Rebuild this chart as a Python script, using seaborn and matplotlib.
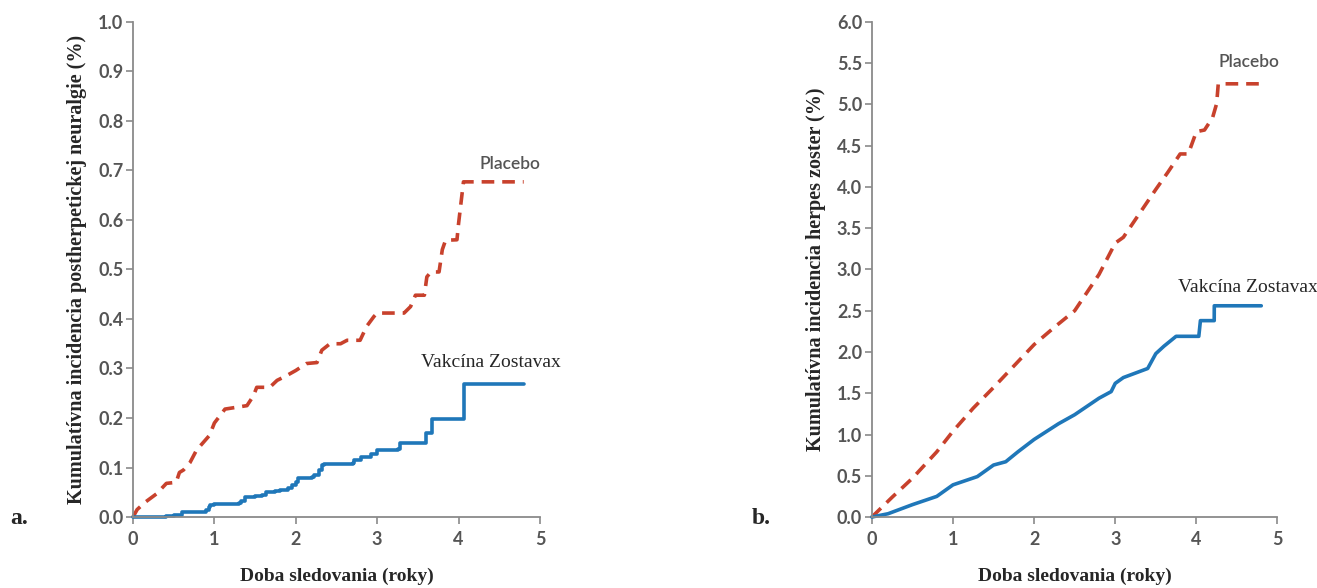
import numpy as np
import pandas as pd
import matplotlib
matplotlib.use("Agg")
import matplotlib.pyplot as plt
import seaborn as sns

# panel a: postherpetic neuralgia
a_placebo_x = [0.0, 0.05, 0.15, 0.29, 0.41, 0.53, 0.57, 0.62, 0.70, 0.78, 0.86, 0.94, 1.0, 1.07,
               1.13, 1.40, 1.48, 1.52, 1.68, 1.77, 1.88, 2.0, 2.13, 2.26, 2.32, 2.42,
               2.55, 2.63, 2.79, 2.87, 2.96, 3.0, 3.33, 3.41, 3.47, 3.58, 3.61, 3.66, 3.76,
               3.80, 3.84, 3.98, 4.0, 4.06, 4.8]
a_placebo_y = [0.0, 0.015, 0.03, 0.047, 0.068, 0.07, 0.09, 0.095, 0.11, 0.135, 0.15, 0.165, 0.19,
               0.205, 0.218, 0.225, 0.245, 0.262, 0.262, 0.276, 0.285, 0.296, 0.31,
               0.312, 0.337, 0.35, 0.35, 0.357, 0.357, 0.385, 0.405, 0.412, 0.412, 0.425,
               0.448, 0.448, 0.485, 0.495, 0.495, 0.54, 0.559, 0.56, 0.593, 0.677, 0.677]

a_vacc_x = [0.0, 0.4, 0.5, 0.6, 0.9, 0.93, 0.95, 1.0, 1.3, 1.33, 1.38, 1.5, 1.58, 1.63, 1.75,
            1.8, 1.9, 1.95, 2.0, 2.03, 2.2, 2.22, 2.28, 2.32, 2.35, 2.7, 2.72, 2.8, 2.92, 3.0,
            3.25, 3.28, 3.6, 3.67, 4.07, 4.8]
a_vacc_y = [0.0, 0.003, 0.005, 0.01, 0.015, 0.02, 0.025, 0.027, 0.029, 0.033, 0.04, 0.042,
            0.045, 0.05, 0.052, 0.055, 0.058, 0.065, 0.07, 0.078, 0.08, 0.085, 0.095, 0.105,
            0.108, 0.11, 0.115, 0.122, 0.128, 0.135, 0.137, 0.15, 0.17, 0.197, 0.268, 0.268]

# panel b: herpes zoster
b_placebo_x = [0.0, 0.25, 0.5, 0.8, 1.0, 1.25, 1.5, 1.75, 2.0, 2.25, 2.5, 2.8, 3.0, 3.1, 3.3,
               3.5, 3.65, 3.8, 3.9, 4.0, 4.1, 4.2, 4.25, 4.27, 4.8]
b_placebo_y = [0.0, 0.24, 0.47, 0.79, 1.04, 1.32, 1.57, 1.83, 2.09, 2.3, 2.5, 2.94, 3.32, 3.39,
               3.68, 3.97, 4.18, 4.4, 4.4, 4.67, 4.69, 4.84, 5.01, 5.25, 5.25]

b_vacc_x = [0.0, 0.2, 0.5, 0.8, 0.9, 1.0, 1.3, 1.5, 1.65, 1.8, 2.0, 2.3, 2.5, 2.8, 2.95, 3.0,
            3.1, 3.4, 3.5, 3.6, 3.75, 4.03, 4.05, 4.22, 4.221, 4.8]
b_vacc_y = [0.0, 0.04, 0.15, 0.25, 0.32, 0.39, 0.49, 0.63, 0.67, 0.79, 0.94, 1.13, 1.24, 1.44,
            1.52, 1.62, 1.69, 1.80, 1.98, 2.07, 2.19, 2.19, 2.38, 2.38, 2.56, 2.56]

RED = "#c8412c"
BLUE = "#1f77b9"
GREY = "#8a8a8a"
TXT = "#555555"
SERIF = "Liberation Serif"
SANS = "Lato"

sns.set_style("ticks")
plt.rcParams["font.family"] = [SANS, "DejaVu Sans"]

fig = plt.figure(figsize=(13.17, 5.88), dpi=100)
ax_a = fig.add_axes([0.101, 0.1207, 0.309, 0.842])
ax_b = fig.add_axes([0.662, 0.1207, 0.308, 0.842])


def draw(ax, px, py, vx, vy):
    sns.lineplot(x=px, y=py, ax=ax, color=RED, lw=2.6, estimator=None, sort=False,
                 linestyle=(0, (3.5, 2.2)))
    sns.lineplot(x=vx, y=vy, ax=ax, color=BLUE, lw=2.6, estimator=None, sort=False,
                 drawstyle="steps-post" if ax is ax_a else "default")


draw(ax_a, a_placebo_x, a_placebo_y, a_vacc_x, a_vacc_y)
draw(ax_b, b_placebo_x, b_placebo_y, b_vacc_x, b_vacc_y)

ax_a.set_ylim(0, 1.0)
ax_a.set_yticks(np.arange(0, 1.01, 0.1))
ax_b.set_ylim(0, 6.0)
ax_b.set_yticks(np.arange(0, 6.01, 0.5))

for ax in (ax_a, ax_b):
    ax.set_xlim(0, 5)
    ax.set_xticks(range(6))
    ax.yaxis.set_major_formatter(matplotlib.ticker.FormatStrFormatter("%.1f"))
    sns.despine(ax=ax)
    for s in ("left", "bottom"):
        ax.spines[s].set_color(GREY)
        ax.spines[s].set_linewidth(1.3)
    ax.tick_params(direction="out", length=5, width=1.2, color=GREY, labelcolor=TXT,
                   labelsize=13)
    for lab in ax.get_xticklabels() + ax.get_yticklabels():
        lab.set_fontweight("bold")
    ax.tick_params(axis="x", pad=5)
    ax.tick_params(axis="y", pad=2)
    ax.set_xlabel("Doba sledovania (roky)", family=SERIF, fontweight="bold", fontsize=14,
                  labelpad=14)
    for ln in ax.lines:
        ln.set_clip_on(False)

ax_a.set_ylabel("Kumulatívna incidencia postherpetickej neuralgie (%)", family=SERIF,
                fontweight="bold", fontsize=14.5, labelpad=8)
ax_b.set_ylabel("Kumulatívna incidencia herpes zoster (%)", family=SERIF,
                fontweight="bold", fontsize=14.5, labelpad=8)

ax_a.text(4.63, 0.703, "Placebo", color=TXT, fontsize=12.5, fontweight="semibold", ha="center")
ax_a.text(4.4, 0.303, "Vakcína Zostavax", family=SERIF, fontsize=14, ha="center")
ax_b.text(4.65, 5.45, "Placebo", color=TXT, fontsize=12.5, fontweight="semibold", ha="center")
ax_b.text(4.63, 2.73, "Vakcína Zostavax", family=SERIF, fontsize=14, ha="center")

fig.text(0.008, 0.108, "a.", family=SERIF, fontweight="bold", fontsize=17)
fig.text(0.571, 0.108, "b.", family=SERIF, fontweight="bold", fontsize=17)

fig.savefig("out.png", dpi=100, facecolor="white")
